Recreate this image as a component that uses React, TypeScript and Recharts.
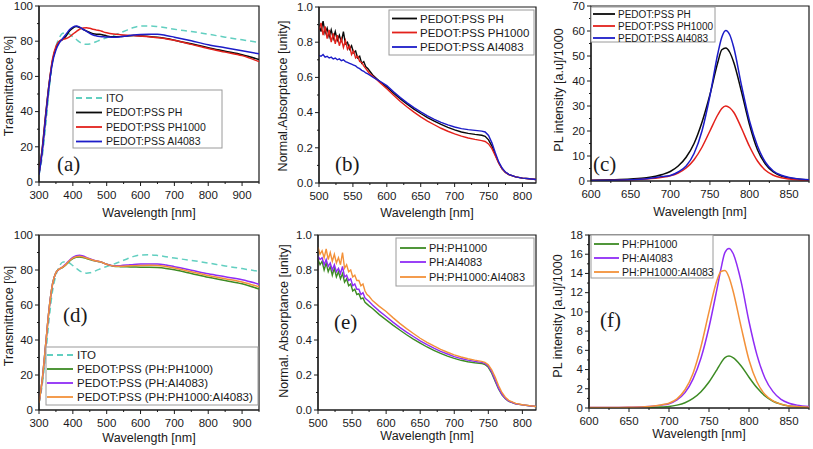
import React from 'react';
import { LineChart, Line, XAxis, YAxis, ReferenceArea } from 'recharts';

const SANS = '"Liberation Sans", Arial, Helvetica, sans-serif';
const SERIF = '"Liberation Serif", "Times New Roman", serif';
const INK = '#1a1a1a';

const C_ITO = '#62cfc0';
const C_PH = '#0a0a0a';
const C_PH1000 = '#e3211b';
const C_AI4083 = '#1c1cc8';
const C_MIX1 = '#3d8b24';
const C_MIX2 = '#8f2cf5';
const C_MIX3 = '#f39139';

// ---- transmittance, panels (a) and (d)
const transWl = [300, 310, 320, 330, 340, 350, 360, 370, 380, 390, 400, 410, 420, 430, 440, 450, 460, 470, 480, 490, 500, 520, 540, 560, 580, 600, 625, 650, 675, 700, 750, 800, 850, 900, 950];
const itoT = [4, 15, 32, 52, 68, 77, 82, 84.5, 84.8, 84, 82.5, 81, 79.5, 78.6, 78.2, 78.4, 79, 79.8, 80.6, 81.3, 82, 83.3, 84.8, 86.3, 87.8, 88.6, 88.7, 88.3, 87.6, 86.8, 85.5, 84, 82.3, 80.8, 79.2];
const phT = [5, 20, 39, 56, 69, 76, 79.8, 81, 83, 85.8, 87.5, 88.3, 87.8, 86.8, 85.8, 85, 84.2, 84, 84, 83.5, 83, 82.5, 82.6, 83, 83.2, 83, 82.7, 82.2, 81.5, 80.6, 78.5, 76.3, 74.3, 72.3, 69.6];
const ph1000T = [5, 19, 38, 56, 70, 77, 80, 81, 81.5, 82.5, 84, 85.5, 86.8, 87.5, 87.6, 87.3, 86.8, 86.3, 86, 85.3, 84.8, 84.1, 83.7, 83.4, 83.2, 82.9, 82.5, 82, 81.4, 80.5, 78.2, 75.8, 73.8, 71.8, 68.4];
const ai4083T = [4, 18, 37, 55, 68, 75, 79, 81.5, 84, 86.5, 88, 88.6, 88, 86.8, 85.7, 84.5, 83.5, 83, 82.7, 82.5, 82.4, 82.2, 82.5, 83, 83.5, 83.8, 84, 84, 83.3, 82.3, 80.2, 78, 76.3, 74.6, 72.8];
const phPh1000T = [4, 18, 38, 58, 72, 78.5, 80.5, 81.5, 83, 85, 86.5, 87.3, 87.5, 87.2, 86.6, 86, 85.4, 85, 84.7, 84, 83.3, 82.2, 81.9, 81.8, 81.7, 81.6, 81.6, 81.4, 80.9, 80.1, 78, 75.8, 74, 72.1, 69.1];
const phAi4083T = [4, 18, 38, 58, 72, 78.5, 80.5, 81.8, 83.5, 85.6, 87.2, 88.2, 88.5, 88, 87.2, 86.4, 85.7, 85.2, 84.8, 84, 83.3, 82.4, 82.5, 82.8, 83.2, 83.4, 83.5, 83.5, 82.9, 81.9, 79.9, 77.8, 76.1, 74.4, 71.9];
const phPh1000Ai4083T = [4, 18, 38, 58, 72, 78.5, 80.5, 81.6, 83.2, 85.3, 86.8, 87.6, 87.9, 87.5, 86.9, 86.2, 85.6, 85.1, 84.8, 84, 83.3, 82.3, 82.2, 82.3, 82.5, 82.6, 82.7, 82.6, 82, 81.1, 79, 76.8, 75, 73.2, 70.4];

// ---- normalised absorptance, panels (b) and (e)
const absWl = [500, 503, 506, 509, 512, 515, 518, 521, 524, 527, 530, 533, 536, 539, 542, 545, 548, 551, 554, 557, 560, 563, 566, 569, 572, 575,
  580, 590, 600, 610, 620, 630, 640, 650, 660, 670, 680, 690, 700, 710, 720, 730, 740,
  745, 750, 755, 760, 765, 770, 775, 780, 790, 800, 810, 820];
const phA = [0.90, 0.86, 0.92, 0.85, 0.88, 0.83, 0.87, 0.82, 0.86, 0.81, 0.84, 0.80, 0.86, 0.79, 0.80, 0.76, 0.78, 0.74, 0.75, 0.71, 0.72, 0.68, 0.69, 0.66, 0.65, 0.635,
  0.61, 0.575, 0.545, 0.51, 0.478, 0.448, 0.42, 0.395, 0.372, 0.352, 0.333, 0.316, 0.302, 0.29, 0.282, 0.276, 0.271,
  0.265, 0.245, 0.21, 0.16, 0.115, 0.08, 0.06, 0.048, 0.035, 0.028, 0.024, 0.02];
const ph1000A = [0.87, 0.91, 0.84, 0.89, 0.82, 0.87, 0.80, 0.85, 0.79, 0.84, 0.78, 0.82, 0.77, 0.81, 0.76, 0.78, 0.73, 0.75, 0.71, 0.72, 0.69, 0.685, 0.665, 0.65, 0.635, 0.62,
  0.605, 0.57, 0.535, 0.498, 0.463, 0.432, 0.403, 0.376, 0.352, 0.331, 0.311, 0.294, 0.279, 0.266, 0.256, 0.248, 0.241,
  0.236, 0.222, 0.195, 0.155, 0.113, 0.08, 0.06, 0.048, 0.035, 0.028, 0.024, 0.02];
const ai4083A = [0.725, 0.72, 0.73, 0.715, 0.72, 0.71, 0.715, 0.705, 0.71, 0.70, 0.705, 0.695, 0.70, 0.69, 0.685, 0.68, 0.675, 0.67, 0.665, 0.655, 0.65, 0.64, 0.635, 0.625, 0.62, 0.612,
  0.60, 0.578, 0.553, 0.518, 0.485, 0.455, 0.428, 0.404, 0.382, 0.362, 0.345, 0.33, 0.318, 0.309, 0.303, 0.299, 0.295,
  0.29, 0.27, 0.228, 0.172, 0.12, 0.085, 0.062, 0.049, 0.035, 0.028, 0.024, 0.02];
const phPh1000A = [0.86, 0.83, 0.85, 0.80, 0.84, 0.79, 0.82, 0.77, 0.81, 0.76, 0.79, 0.75, 0.78, 0.73, 0.75, 0.71, 0.72, 0.68, 0.69, 0.66, 0.665, 0.635, 0.64, 0.615, 0.605, 0.595,
  0.58, 0.545, 0.515, 0.485, 0.457, 0.43, 0.405, 0.382, 0.36, 0.341, 0.323, 0.308, 0.295, 0.284, 0.276, 0.27, 0.266,
  0.26, 0.244, 0.21, 0.165, 0.12, 0.087, 0.064, 0.05, 0.036, 0.029, 0.024, 0.02];
const phAi4083A = [0.88, 0.86, 0.87, 0.83, 0.86, 0.82, 0.84, 0.80, 0.83, 0.79, 0.81, 0.78, 0.82, 0.76, 0.77, 0.74, 0.75, 0.71, 0.72, 0.69, 0.69, 0.66, 0.67, 0.64, 0.63, 0.62,
  0.60, 0.565, 0.534, 0.502, 0.472, 0.445, 0.42, 0.395, 0.373, 0.353, 0.335, 0.32, 0.305, 0.294, 0.285, 0.278, 0.272,
  0.266, 0.25, 0.218, 0.172, 0.125, 0.09, 0.066, 0.051, 0.036, 0.029, 0.024, 0.02];
const phPh1000Ai4083A = [0.93, 0.89, 0.91, 0.87, 0.92, 0.86, 0.90, 0.85, 0.89, 0.84, 0.87, 0.83, 0.90, 0.81, 0.83, 0.79, 0.80, 0.76, 0.77, 0.74, 0.74, 0.71, 0.72, 0.68, 0.66, 0.65,
  0.625, 0.592, 0.563, 0.528, 0.495, 0.465, 0.437, 0.41, 0.387, 0.366, 0.347, 0.33, 0.315, 0.303, 0.293, 0.285, 0.278,
  0.272, 0.258, 0.23, 0.188, 0.14, 0.10, 0.073, 0.055, 0.038, 0.03, 0.025, 0.02];

// ---- photoluminescence, panels (c) and (f)
const plWl = [600, 625, 650, 670, 690, 700, 710, 720, 730, 740, 750, 760, 765, 770, 775, 780, 790, 800, 810, 820, 830, 840, 850, 860, 875];
const phPL = [0.3, 0.5, 0.8, 1.3, 2.6, 3.8, 6, 9.5, 15, 23.5, 34.5, 47.5, 52.5, 53.2, 51.5, 47.5, 35.5, 22.5, 12.5, 6.8, 3.6, 2, 1.2, 0.8, 0.4];
const ph1000PL = [0.2, 0.3, 0.5, 0.8, 1.5, 2.1, 3.2, 5.2, 8.5, 13.5, 20, 26.5, 29, 30, 29.3, 27.5, 21, 13.8, 8, 4.3, 2.3, 1.3, 0.8, 0.5, 0.3];
const ai4083PL = [0.2, 0.3, 0.5, 0.9, 1.8, 2.2, 3.6, 6, 11, 20, 34, 51, 57.5, 60.2, 58.5, 53.5, 38, 24, 14, 7.5, 4, 2.3, 1.4, 0.9, 0.5];
const phPh1000PL = [0, 0.01, 0.02, 0.04, 0.1, 0.15, 0.3, 0.55, 1, 1.7, 2.7, 4, 4.7, 5.25, 5.4, 5.25, 4.4, 3.2, 2.1, 1.25, 0.7, 0.4, 0.22, 0.14, 0.08];
const phAi4083PL = [0.05, 0.05, 0.07, 0.12, 0.3, 0.45, 0.85, 1.6, 3, 5.2, 8.4, 12.4, 14.5, 16.2, 16.6, 16.1, 13.2, 9, 5.5, 3.1, 1.7, 0.9, 0.5, 0.3, 0.15];
const phPh1000Ai4083PL = [0.05, 0.05, 0.07, 0.13, 0.32, 0.5, 0.95, 1.9, 3.6, 6.4, 10, 13.3, 14.2, 14.3, 13.6, 12.2, 8.5, 5, 2.7, 1.4, 0.75, 0.4, 0.22, 0.15, 0.08];

// ---- ticks (major + minor)
const transXTicks = [300, 350, 400, 450, 500, 550, 600, 650, 700, 750, 800, 850, 900, 950];
const transYTicks = [0, 10, 20, 30, 40, 50, 60, 70, 80, 90, 100];
const absXTicks = [500, 525, 550, 575, 600, 625, 650, 675, 700, 725, 750, 775, 800];
const absYTicks = [0, 0.1, 0.2, 0.3, 0.4, 0.5, 0.6, 0.7, 0.8, 0.9, 1.0];
const plXTicks = [600, 625, 650, 675, 700, 725, 750, 775, 800, 825, 850, 875];
const plcYTicks = [0, 5, 10, 15, 20, 25, 30, 35, 40, 45, 50, 55, 60, 65, 70];
const plfYTicks = [0, 1, 2, 3, 4, 5, 6, 7, 8, 9, 10, 11, 12, 13, 14, 15, 16, 17, 18];

type Series = { name: string; values: number[]; color: string; dash?: string };

const TICK_FS = 11.5;

function Tick(props: any) {
  const { x, y, side, major, label } = props;
  const len = major ? 4 : 2;
  if (side === 'bottom') {
    return (
      <g>
        <line x1={x} x2={x} y1={y} y2={y + len} stroke={INK} strokeWidth={1} />
        {major && (
          <text x={x} y={y + 16.5} textAnchor="middle" fontSize={TICK_FS} fontFamily={SANS} fill={INK}>{label}</text>
        )}
      </g>
    );
  }
  return (
    <g>
      <line x1={x - len} x2={x} y1={y} y2={y} stroke={INK} strokeWidth={1} />
      {major && (
        <text x={x - 6} y={y + 3.8} textAnchor="end" fontSize={TICK_FS} fontFamily={SANS} fill={INK}>{label}</text>
      )}
    </g>
  );
}

type PanelProps = {
  box: number[]; // left, top, width, height
  plot: number[]; // left, top, right, bottom
  x: number[];
  series: Series[];
  xDomain: number[];
  yDomain: number[];
  xTicks: number[];
  yTicks: number[];
  xMajor: (v: number) => boolean;
  yMajor: (v: number) => boolean;
  yFmt: (v: number) => string;
  curve: 'monotone' | 'linear';
  sw: number;
};

function Panel(p: PanelProps) {
  const [bl, bt, bw, bh] = p.box;
  const [pl, pt, pr, pb] = p.plot;
  const rows = p.x.map((w, i) => {
    const r: any = { w };
    p.series.forEach((s, k) => { r['s' + k] = s.values[i]; });
    return r;
  });
  return (
    <div style={{ position: 'absolute', left: bl, top: bt }}>
      <LineChart width={bw} height={bh} data={rows} margin={{ top: pt - bt, right: bl + bw - pr, bottom: 0, left: 0 }}>
        <XAxis
          dataKey="w"
          type="number"
          domain={p.xDomain}
          allowDataOverflow
          ticks={p.xTicks}
          interval={0}
          height={bt + bh - pb}
          tickSize={0}
          tickMargin={0}
          tickLine={false}
          axisLine={{ stroke: INK, strokeWidth: 1.2 }}
          tick={(t: any) => <Tick {...t} side="bottom" major={p.xMajor(t.payload.value)} label={String(t.payload.value)} />}
        />
        <YAxis
          type="number"
          domain={p.yDomain}
          allowDataOverflow
          ticks={p.yTicks}
          interval={0}
          width={pl - bl}
          tickSize={0}
          tickMargin={0}
          tickLine={false}
          axisLine={{ stroke: INK, strokeWidth: 1.2 }}
          tick={(t: any) => <Tick {...t} side="left" major={p.yMajor(t.payload.value)} label={p.yFmt(t.payload.value)} />}
        />
        <ReferenceArea x1={p.xDomain[0]} x2={p.xDomain[1]} y1={p.yDomain[0]} y2={p.yDomain[1]} fill="none" stroke={INK} strokeWidth={1.2} ifOverflow="visible" />
        {p.series.map((s, k) => (
          <Line
            key={k}
            dataKey={'s' + k}
            type={p.curve}
            stroke={s.color}
            strokeDasharray={s.dash}
            strokeWidth={p.sw}
            dot={false}
            isAnimationActive={false}
          />
        ))}
      </LineChart>
    </div>
  );
}

type LegendProps = { box: number[]; rows: number[]; line: number[]; tx: number; fs: number; items: Series[] };

function LegendBox({ box, rows, line, tx, fs, items }: LegendProps) {
  return (
    <g>
      <rect x={box[0]} y={box[1]} width={box[2] - box[0]} height={box[3] - box[1]} fill="#fff" stroke="#9a9a9a" strokeWidth={1} />
      {items.map((s, i) => (
        <g key={s.name}>
          <line x1={line[0]} x2={line[1]} y1={rows[i]} y2={rows[i]} stroke={s.color} strokeWidth={1.8} strokeDasharray={s.dash} />
          <text x={tx} y={rows[i] + fs * 0.36} fontSize={fs} fontFamily={SANS} fill={INK}>{s.name}</text>
        </g>
      ))}
    </g>
  );
}

const ito: Series = { name: 'ITO', values: itoT, color: C_ITO, dash: '6 4' };
const seriesA: Series[] = [
  ito,
  { name: 'PEDOT:PSS PH', values: phT, color: C_PH },
  { name: 'PEDOT:PSS PH1000', values: ph1000T, color: C_PH1000 },
  { name: 'PEDOT:PSS AI4083', values: ai4083T, color: C_AI4083 },
];
const seriesB: Series[] = [
  { name: 'PEDOT:PSS PH', values: phA, color: C_PH },
  { name: 'PEDOT:PSS PH1000', values: ph1000A, color: C_PH1000 },
  { name: 'PEDOT:PSS AI4083', values: ai4083A, color: C_AI4083 },
];
const seriesC: Series[] = [
  { name: 'PEDOT:PSS PH', values: phPL, color: C_PH },
  { name: 'PEDOT:PSS PH1000', values: ph1000PL, color: C_PH1000 },
  { name: 'PEDOT:PSS AI4083', values: ai4083PL, color: C_AI4083 },
];
const seriesD: Series[] = [
  ito,
  { name: 'PEDOT:PSS (PH:PH1000)', values: phPh1000T, color: C_MIX1 },
  { name: 'PEDOT:PSS (PH:AI4083)', values: phAi4083T, color: C_MIX2 },
  { name: 'PEDOT:PSS (PH:PH1000:AI4083)', values: phPh1000Ai4083T, color: C_MIX3 },
];
const seriesE: Series[] = [
  { name: 'PH:PH1000', values: phPh1000A, color: C_MIX1 },
  { name: 'PH:AI4083', values: phAi4083A, color: C_MIX2 },
  { name: 'PH:PH1000:AI4083', values: phPh1000Ai4083A, color: C_MIX3 },
];
const seriesF: Series[] = [
  { name: 'PH:PH1000', values: phPh1000PL, color: C_MIX1 },
  { name: 'PH:AI4083', values: phAi4083PL, color: C_MIX2 },
  { name: 'PH:PH1000:AI4083', values: phPh1000Ai4083PL, color: C_MIX3 },
];

const intFmt = (v: number) => String(v);
const decFmt = (v: number) => v.toFixed(1);

function YTitle({ x, y, text }: { x: number; y: number; text: string }) {
  return (
    <text x={x} y={y} transform={`rotate(-90 ${x} ${y})`} textAnchor="middle" dy="0.36em" fontSize={12.5} fontFamily={SANS} fill={INK}>{text}</text>
  );
}

function XTitle({ x, y, text }: { x: number; y: number; text: string }) {
  return (
    <text x={x} y={y} textAnchor="middle" dy="0.36em" fontSize={12.5} fontFamily={SANS} fill={INK}>{text}</text>
  );
}

function Tag({ x, y, text }: { x: number; y: number; text: string }) {
  return (
    <text x={x} y={y} dy="0.32em" fontSize={21} fontFamily={SERIF} fill={INK}>{text}</text>
  );
}

export default function App() {
  return (
    <div style={{ position: 'absolute', left: 0, top: 0, width: 813, height: 449, background: '#fff', overflow: 'hidden' }}>
      <Panel box={[0, 0, 270, 225]} plot={[39, 6, 259, 182]} x={transWl} series={seriesA}
        xDomain={[300, 950]} yDomain={[0, 100]} xTicks={transXTicks} yTicks={transYTicks}
        xMajor={(v) => v % 100 === 0} yMajor={(v) => v % 20 === 0} yFmt={intFmt} curve="monotone" sw={1.5} />
      <Panel box={[270, 0, 270, 225]} plot={[319, 7, 536, 183]} x={absWl} series={seriesB}
        xDomain={[500, 820]} yDomain={[0, 1]} xTicks={absXTicks} yTicks={absYTicks}
        xMajor={(v) => v % 50 === 0} yMajor={(v) => Math.round(v * 10) % 2 === 0} yFmt={decFmt} curve="linear" sw={1.4} />
      <Panel box={[540, 0, 273, 225]} plot={[591, 6, 809, 181]} x={plWl} series={seriesC}
        xDomain={[600, 875]} yDomain={[0, 70]} xTicks={plXTicks} yTicks={plcYTicks}
        xMajor={(v) => v % 50 === 0} yMajor={(v) => v % 10 === 0} yFmt={intFmt} curve="monotone" sw={1.5} />
      <Panel box={[0, 225, 270, 224]} plot={[39, 235, 259, 410]} x={transWl} series={seriesD}
        xDomain={[300, 950]} yDomain={[0, 100]} xTicks={transXTicks} yTicks={transYTicks}
        xMajor={(v) => v % 100 === 0} yMajor={(v) => v % 20 === 0} yFmt={intFmt} curve="monotone" sw={1.5} />
      <Panel box={[270, 225, 270, 224]} plot={[318, 235, 536, 410]} x={absWl} series={seriesE}
        xDomain={[500, 820]} yDomain={[0, 1]} xTicks={absXTicks} yTicks={absYTicks}
        xMajor={(v) => v % 50 === 0} yMajor={(v) => Math.round(v * 10) % 2 === 0} yFmt={decFmt} curve="linear" sw={1.4} />
      <Panel box={[540, 225, 273, 224]} plot={[589, 235, 809, 408]} x={plWl} series={seriesF}
        xDomain={[600, 875]} yDomain={[0, 18]} xTicks={plXTicks} yTicks={plfYTicks}
        xMajor={(v) => v % 50 === 0} yMajor={(v) => v % 2 === 0} yFmt={intFmt} curve="monotone" sw={1.5} />

      <svg width={813} height={449} style={{ position: 'absolute', left: 0, top: 0, pointerEvents: 'none' }}>
        <YTitle x={8} y={86} text="Transmittance [%]" />
        <YTitle x={282} y={96} text="Normal.Absorptance [unity]" />
        <YTitle x={558} y={90} text="PL intensity [a.u]/1000" />
        <YTitle x={8} y={316} text="Transmittance [%]" />
        <YTitle x={283} y={321} text="Normal. Absorptance [unity]" />
        <YTitle x={557} y={316} text="PL intensity [a.u]/1000" />

        <XTitle x={149} y={212} text="Wavelength [nm]" />
        <XTitle x={427} y={212} text="Wavelength [nm]" />
        <XTitle x={700} y={211} text="Wavelength [nm]" />
        <XTitle x={149} y={437} text="Wavelength [nm]" />
        <XTitle x={427} y={435} text="Wavelength [nm]" />
        <XTitle x={699} y={433} text="Wavelength [nm]" />

        <Tag x={57} y={164} text="(a)" />
        <Tag x={335} y={164} text="(b)" />
        <Tag x={593} y={164} text="(c)" />
        <Tag x={63} y={315} text="(d)" />
        <Tag x={334} y={322} text="(e)" />
        <Tag x={600} y={320} text="(f)" />

        <LegendBox box={[73, 90, 222, 148]} rows={[98, 112.5, 127, 141.5]} line={[76, 102]} tx={106} fs={10.5} items={seriesA} />
        <LegendBox box={[389, 10, 534, 55]} rows={[18.5, 32.5, 47]} line={[392, 417]} tx={420} fs={11.5} items={seriesB} />
        <LegendBox box={[591, 7, 715, 42]} rows={[14, 26, 38]} line={[593, 615]} tx={618} fs={10} items={seriesC} />
        <LegendBox box={[46, 347, 258, 405]} rows={[355, 369, 383, 397]} line={[47, 73]} tx={77} fs={11.5} items={seriesD} />
        <LegendBox box={[396, 238, 534, 286]} rows={[248, 262, 277]} line={[400, 426]} tx={429} fs={11} items={seriesE} />
        <LegendBox box={[591, 235, 713, 278]} rows={[244, 258, 272]} line={[594, 619]} tx={622} fs={10.5} items={seriesF} />
      </svg>
    </div>
  );
}
